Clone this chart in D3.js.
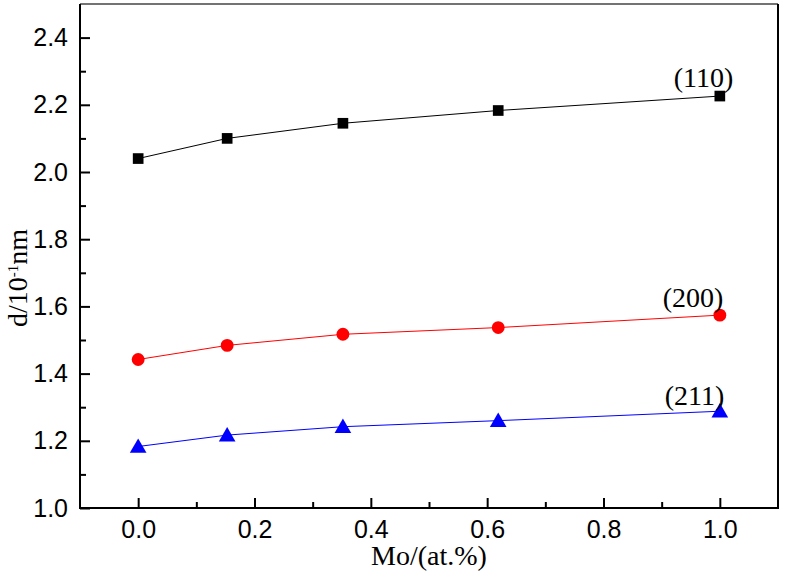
<!DOCTYPE html>
<html>
<head>
<meta charset="utf-8">
<script src="https://cdn.jsdelivr.net/npm/d3@7"></script>
<style>
  body { margin: 0; background: #fff; }
  .tick text { font-family: "Liberation Sans", Arial, sans-serif; font-size: 25px; fill: #000; }
  .serif { font-family: "Liberation Serif", "Times New Roman", serif; fill: #000; }
</style>
</head>
<body>
<div id="chart"></div>
<script>
// Data
var mo = [0, 0.153, 0.352, 0.619, 1.0];
var d110 = [2.040, 2.100, 2.145, 2.183, 2.226];
var d200 = [1.442, 1.484, 1.517, 1.537, 1.574];
var d211 = [1.183, 1.217, 1.242, 1.260, 1.288];
var seriesNames = ["(110)", "(200)", "(211)"];
var xTicks = [0.0, 0.2, 0.4, 0.6, 0.8, 1.0];
var xMinor = [0.1, 0.3, 0.5, 0.7, 0.9];
var yTicks = [1.0, 1.2, 1.4, 1.6, 1.8, 2.0, 2.2, 2.4];
var yMinor = [1.1, 1.3, 1.5, 1.7, 1.9, 2.1, 2.3];

var W = 787, H = 584;
var pLeft = 80, pRight = 778, pTop = 4, pBottom = 508;

var xScale = d3.scaleLinear().domain([-0.1, 1.1]).range([pLeft, pRight]),
    yScale = d3.scaleLinear().domain([1.0, 2.5]).range([pBottom, pTop]);

var svg = d3.select("#chart").append("svg")
  .attr("width", W)
  .attr("height", H);

// frame: top and right sides
svg.append("line")
  .attr("x1", pLeft).attr("x2", pRight).attr("y1", pTop).attr("y2", pTop)
  .attr("stroke", "#444").attr("stroke-width", 1.5);
svg.append("line")
  .attr("x1", pRight).attr("x2", pRight).attr("y1", pTop).attr("y2", pBottom)
  .attr("stroke", "#000").attr("stroke-width", 2);

// minor ticks
svg.append("g")
  .attr("transform", "translate(0," + pBottom + ")")
  .call(d3.axisBottom(xScale).tickValues(xMinor).tickSize(-6).tickFormat(""))
  .call(function(g) { g.select(".domain").remove(); })
  .selectAll("line").attr("stroke-width", 2);
svg.append("g")
  .attr("transform", "translate(" + pLeft + ",0)")
  .call(d3.axisLeft(yScale).tickValues(yMinor).tickSize(-6).tickFormat(""))
  .call(function(g) { g.select(".domain").remove(); })
  .selectAll("line").attr("stroke-width", 2);

// major axes
var gX = svg.append("g")
  .attr("transform", "translate(0," + pBottom + ")")
  .call(d3.axisBottom(xScale).tickValues(xTicks).tickSize(-10).tickSizeOuter(0)
    .tickPadding(12).tickFormat(d3.format(".1f")));
var gY = svg.append("g")
  .attr("transform", "translate(" + pLeft + ",0)")
  .call(d3.axisLeft(yScale).tickValues(yTicks).tickSize(-10).tickSizeOuter(0)
    .tickPadding(12).tickFormat(d3.format(".1f")));
[gX, gY].forEach(function(g) {
  g.selectAll("path, line").attr("stroke", "#000").attr("stroke-width", 2);
});
gX.select(".domain").attr("d", "M" + (pLeft - 1) + ",0H" + (pRight + 1));
gY.select(".domain").attr("d", "M0," + pTop + "V" + (pBottom + 1));

// series
var series = [
  {name: seriesNames[0], values: d110, color: "#000000", symbol: d3.symbolSquare, size: 114, dx: 13.5, dy: -9},
  {name: seriesNames[1], values: d200, color: "#ff0000", symbol: d3.symbolCircle, size: 130, dx: 3.5, dy: -8},
  {name: seriesNames[2], values: d211, color: "#0000ff", symbol: d3.symbolTriangle, size: 120, dx: 4.5, dy: -6}
];

var line = d3.line()
  .x(function(d) { return xScale(d[0]); })
  .y(function(d) { return yScale(d[1]); });

series.forEach(function(s) {
  var pts = mo.map(function(m, i) { return [m, s.values[i]]; });
  svg.append("path")
    .datum(pts)
    .attr("d", line)
    .attr("fill", "none")
    .attr("stroke", s.color)
    .attr("stroke-width", 1);

  svg.append("g").selectAll("path")
    .data(pts)
    .enter().append("path")
    .attr("d", d3.symbol().type(s.symbol).size(s.size))
    .attr("transform", function(d) {
      var yOff = s.symbol === d3.symbolTriangle ? 1.5 : 0;
      return "translate(" + xScale(d[0]) + "," + (yScale(d[1]) + yOff) + ")";
    })
    .attr("fill", s.color);

  var last = pts[pts.length - 1];
  svg.append("text")
    .attr("class", "serif")
    .attr("x", xScale(last[0]) + s.dx)
    .attr("y", yScale(last[1]) + s.dy)
    .attr("text-anchor", "end")
    .style("font-size", "28px")
    .text(s.name);
});

// axis titles
svg.append("text")
  .attr("class", "serif")
  .attr("x", (pLeft + pRight) / 2)
  .attr("y", 565)
  .attr("text-anchor", "middle")
  .style("font-size", "28px")
  .text("Mo/(at.%)");

var yTitle = svg.append("text")
  .attr("class", "serif")
  .attr("transform", "translate(27,278) rotate(-90)")
  .attr("text-anchor", "middle")
  .style("font-size", "28px");
yTitle.append("tspan").text("d/10");
yTitle.append("tspan").attr("dy", -9).style("font-size", "15px").text("-1");
yTitle.append("tspan").attr("dy", 9).text("nm");
</script>
</body>
</html>
